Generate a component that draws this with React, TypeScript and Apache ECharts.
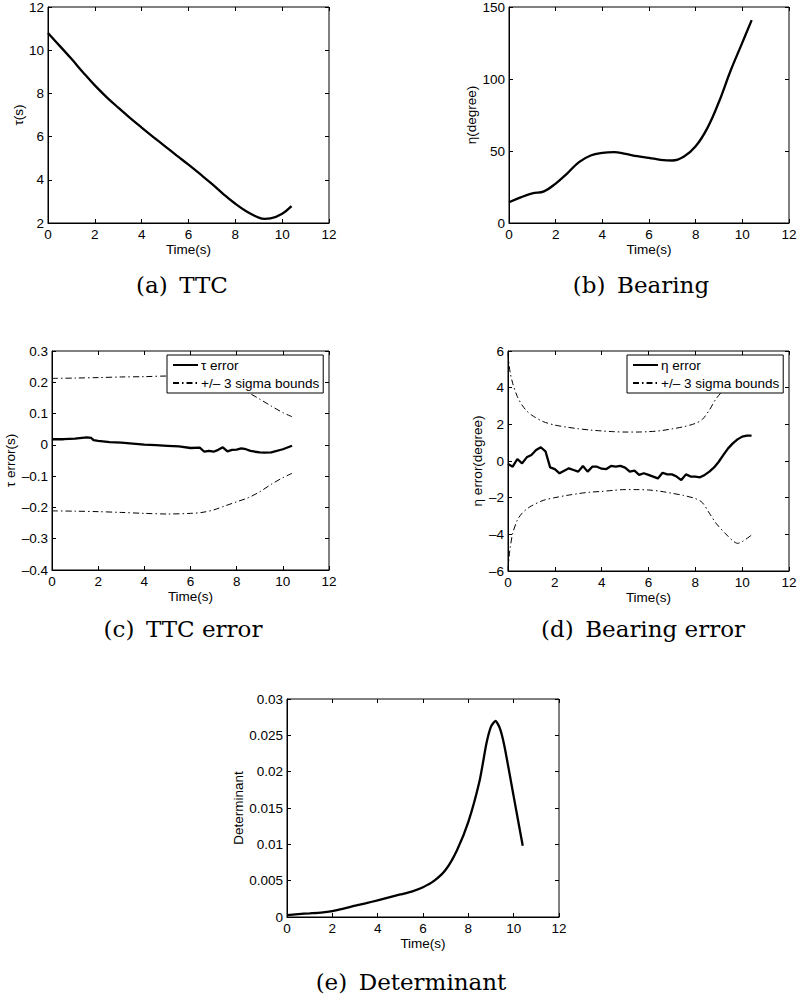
import React, { useEffect, useRef } from "react";
import * as echarts from "echarts";

// ---------- data ----------
const TTC_T = [0, 0.5, 1, 1.5, 2, 2.5, 3, 3.5, 4, 4.5, 5, 5.5, 6, 6.5, 7, 7.5, 8, 8.5, 9, 9.25, 9.5, 10, 10.4];
const TTC = [10.8, 10.2, 9.6, 8.97, 8.37, 7.83, 7.34, 6.87, 6.42, 5.98, 5.55, 5.12, 4.7, 4.26, 3.81, 3.33, 2.89, 2.52, 2.25, 2.19, 2.21, 2.43, 2.78];

const BEAR_T = [0, 0.5, 1, 1.5, 2, 2.5, 3, 3.5, 4, 4.5, 5, 5.5, 6, 6.5, 7, 7.5, 8, 8.5, 9, 9.5, 10, 10.4];
const BEAR = [14.4, 17.8, 20.6, 22, 27.4, 34.5, 42.3, 46.9, 48.7, 49.2, 48, 46.4, 45.3, 43.9, 43.4, 46.2, 53.3, 65.9, 84.2, 105.9, 125.3, 140.9];

const TTC_ERR_T = [0, 0.5, 1, 1.5, 1.7, 1.8, 2, 2.5, 3, 3.5, 4, 4.5, 5, 5.5, 6, 6.4, 6.6, 6.8, 7, 7.2, 7.4, 7.6, 7.8, 8, 8.2, 8.4, 8.6, 8.8, 9, 9.2, 9.5, 10, 10.4];
const TTC_ERR = [0.018, 0.018, 0.02, 0.024, 0.022, 0.015, 0.013, 0.009, 0.007, 0.004, 0.001, -0.001, -0.003, -0.005, -0.01, -0.009, -0.022, -0.019, -0.022, -0.016, -0.008, -0.021, -0.016, -0.015, -0.011, -0.014, -0.019, -0.022, -0.024, -0.025, -0.024, -0.014, -0.003];

const TTC_BND_T = [0, 1, 2, 3, 4, 5, 6, 6.5, 7, 7.5, 8, 8.5, 9, 9.5, 10, 10.4];
const TTC_UP = [0.2125, 0.2135, 0.215, 0.217, 0.218, 0.22, 0.219, 0.216, 0.208, 0.195, 0.182, 0.167, 0.146, 0.124, 0.103, 0.09];
const TTC_LO = [-0.211, -0.212, -0.2135, -0.216, -0.219, -0.221, -0.219, -0.216, -0.208, -0.195, -0.182, -0.169, -0.15, -0.126, -0.105, -0.091];

const BEAR_ERR_T = [0, 0.2, 0.4, 0.6, 0.8, 1, 1.2, 1.4, 1.6, 1.8, 2, 2.2, 2.4, 2.6, 2.8, 3, 3.2, 3.4, 3.6, 3.8, 4, 4.2, 4.4, 4.6, 4.8, 5, 5.2, 5.4, 5.6, 5.8, 6, 6.2, 6.4, 6.6, 6.8, 7, 7.2, 7.4, 7.6, 7.8, 8, 8.2, 8.4, 8.6, 8.8, 9, 9.2, 9.4, 9.6, 9.8, 10, 10.2, 10.4];
const BEAR_ERR = [-0.16, -0.31, 0.11, -0.13, 0.2, 0.33, 0.6, 0.75, 0.53, -0.35, -0.44, -0.67, -0.53, -0.4, -0.49, -0.58, -0.27, -0.58, -0.31, -0.31, -0.42, -0.44, -0.27, -0.31, -0.27, -0.36, -0.58, -0.53, -0.76, -0.67, -0.76, -0.85, -0.95, -0.64, -0.73, -0.73, -0.85, -1.04, -0.73, -0.85, -0.85, -0.89, -0.76, -0.58, -0.35, -0.04, 0.33, 0.69, 0.96, 1.18, 1.33, 1.38, 1.38];

const BEAR_BND_T = [0, 0.05, 0.1, 0.2, 0.4, 0.6, 0.8, 1, 1.5, 2, 2.5, 3, 3.5, 4, 4.5, 5, 5.5, 6, 6.5, 7, 7.5, 8, 8.3, 8.6, 8.9, 9.3, 9.6, 9.8, 10, 10.4];
const BEAR_UP = [5.9, 5.2, 4.78, 4.24, 3.51, 3.05, 2.73, 2.51, 2.15, 1.96, 1.85, 1.76, 1.69, 1.64, 1.6, 1.58, 1.58, 1.6, 1.65, 1.75, 1.87, 2.05, 2.27, 2.78, 3.42, 4.0, 4.35, 4.49, 4.4, 4.04];
const BEAR_LO = [-5.95, -5.2, -4.67, -3.95, -3.22, -2.85, -2.62, -2.45, -2.15, -2.0, -1.88, -1.78, -1.7, -1.66, -1.6, -1.56, -1.56, -1.58, -1.65, -1.76, -1.88, -2.05, -2.27, -2.85, -3.42, -3.98, -4.35, -4.49, -4.4, -4.04];

const DET_T = [0, 0.5, 1, 1.5, 2, 2.5, 3, 3.5, 4, 4.5, 5, 5.5, 6, 6.5, 7, 7.5, 8, 8.5, 8.8, 9, 9.2, 9.4, 9.6, 10, 10.4];
const DET = [0.00027, 0.0004, 0.0005, 0.0006, 0.0008, 0.00114, 0.00155, 0.0019, 0.0023, 0.0027, 0.0031, 0.0035, 0.0041, 0.005, 0.0065, 0.0092, 0.0131, 0.0188, 0.0239, 0.0262, 0.027, 0.0259, 0.0234, 0.0166, 0.0098];

const CAPTIONS = ["(a)\u2002TTC", "(b)\u2002Bearing", "(c)\u2002TTC error", "(d)\u2002Bearing error", "(e)\u2002Determinant"];
const Y_NAMES = ["\u03c4(s)", "\u03b7(degree)", "\u03c4 error(s)", "\u03b7 error(degree)", "Determinant"];
const X_NAME = "Time(s)";
const BOUND_NAME = "+/\u2013 3 sigma bounds";
const TTC_ERR_NAME = "\u03c4 error";
const BEAR_ERR_NAME = "\u03b7 error";

// ---------- layout ----------
const GRIDS = [
  { left: 48, top: 4, width: 281, height: 219 },
  { left: 509, top: 4, width: 280, height: 219 },
  { left: 52, top: 351, width: 277, height: 219 },
  { left: 508, top: 351, width: 281, height: 220 },
  { left: 287, top: 699, width: 272, height: 218 },
];
const Y_RANGES = [
  [2, 12, 2],
  [0, 150, 50],
  [-0.4, 0.3, 0.1],
  [-6, 6, 2],
  [0, 0.03, 0.005],
];
const Y_NAME_GAPS = [23, 30, 34, 24, 42];
const CAPTION_POS = [
  [182, 285],
  [641, 285],
  [183, 629],
  [643, 629],
  [411, 982],
];

const SANS = "'Liberation Sans', Arial, Helvetica, sans-serif";
const FS = 13.5;

const fmt = (v: number) => {
  const s = String(+(+v).toFixed(10));
  return s === "-0" ? "0" : s.replace("-", "\u2013");
};

const zip = (xs: number[], ys: number[]) => xs.map((x, i) => [x, ys[i]]);

function buildOption() {
  const xAxis: any[] = [];
  const yAxis: any[] = [];
  const labelStyle = { color: "#000", fontFamily: SANS, fontSize: FS };
  GRIDS.forEach((_, i) => {
    const [ymin, ymax, yint] = Y_RANGES[i];
    xAxis.push({
      type: "value", gridIndex: i, min: 0, max: 12, interval: 2, position: "bottom",
      axisLine: { show: true, onZero: false, lineStyle: { color: "#000", width: 1 } },
      axisTick: { show: true, inside: true, length: 4, lineStyle: { color: "#000" } },
      axisLabel: { ...labelStyle, margin: 4, showMinLabel: true, showMaxLabel: true, formatter: fmt },
      splitLine: { show: false },
      name: X_NAME, nameLocation: "middle", nameGap: 19,
      nameTextStyle: { ...labelStyle },
    });
    xAxis.push({
      type: "value", gridIndex: i, min: 0, max: 12, interval: 2, position: "top",
      axisLine: { show: false, onZero: false },
      axisTick: { show: true, inside: true, length: 4, lineStyle: { color: "#000" } },
      axisLabel: { show: false }, splitLine: { show: false },
    });
    yAxis.push({
      type: "value", gridIndex: i, min: ymin, max: ymax, interval: yint, position: "left",
      axisLine: { show: true, onZero: false, lineStyle: { color: "#000", width: 1 } },
      axisTick: { show: true, inside: true, length: 4, lineStyle: { color: "#000" } },
      axisLabel: { ...labelStyle, margin: 4, showMinLabel: true, showMaxLabel: true, formatter: fmt },
      splitLine: { show: false },
      name: Y_NAMES[i], nameLocation: "middle", nameGap: Y_NAME_GAPS[i], nameRotate: 90,
      nameTextStyle: { ...labelStyle },
    });
    yAxis.push({
      type: "value", gridIndex: i, min: ymin, max: ymax, interval: yint, position: "right",
      axisLine: { show: false, onZero: false },
      axisTick: { show: true, inside: true, length: 4, lineStyle: { color: "#000" } },
      axisLabel: { show: false }, splitLine: { show: false },
    });
  });

  const solid = (name: string, i: number, data: number[][], smooth: any) => ({
    type: "line", name, xAxisIndex: 2 * i, yAxisIndex: 2 * i, data, symbol: "none",
    smooth, lineStyle: { color: "#000", width: 2.3 }, itemStyle: { color: "#000" }, z: 3,
  });
  const dashdot = (i: number, data: number[][]) => ({
    type: "line", name: BOUND_NAME, xAxisIndex: 2 * i, yAxisIndex: 2 * i, data, symbol: "none",
    smooth: 0.3, lineStyle: { color: "#000", width: 1, type: [6, 3, 1.5, 3] }, itemStyle: { color: "#000" }, z: 2,
  });

  const series = [
    solid("TTC", 0, zip(TTC_T, TTC), 0.4),
    solid("Bearing", 1, zip(BEAR_T, BEAR), 0.4),
    solid(TTC_ERR_NAME, 2, zip(TTC_ERR_T, TTC_ERR), false),
    dashdot(2, zip(TTC_BND_T, TTC_UP)),
    dashdot(2, zip(TTC_BND_T, TTC_LO)),
    solid(BEAR_ERR_NAME, 3, zip(BEAR_ERR_T, BEAR_ERR), false),
    dashdot(3, zip(BEAR_BND_T, BEAR_UP)),
    dashdot(3, zip(BEAR_BND_T, BEAR_LO)),
    solid("Determinant", 4, zip(DET_T, DET), 0.2),
  ];

  const legendBase = {
    orient: "vertical", backgroundColor: "#fff", borderColor: "#000", borderWidth: 1, borderRadius: 0,
    padding: [3, 4, 3, 5], itemWidth: 25, itemHeight: 14, itemGap: 4, z: 10,
    selectedMode: false,
    itemStyle: { opacity: 0, borderWidth: 0 },
    textStyle: { color: "#000", fontFamily: SANS, fontSize: FS, padding: [0, 0, 0, -2] },
  };
  const legend = [
    { ...legendBase, left: 167, top: 355, data: [TTC_ERR_NAME, BOUND_NAME] },
    { ...legendBase, left: 627, top: 355, data: [BEAR_ERR_NAME, BOUND_NAME] },
  ];

  const graphic = CAPTIONS.map((t, i) => ({
    type: "text", x: CAPTION_POS[i][0], y: CAPTION_POS[i][1], z: 10,
    style: {
      text: t, fill: "#000", fontFamily: "'DejaVu Serif', serif", fontSize: 23,
      align: "center", verticalAlign: "middle",
    },
  }));

  return {
    animation: false,
    backgroundColor: "#fff",
    grid: GRIDS.map((g) => ({ ...g, show: true, borderColor: "#000", borderWidth: 1, backgroundColor: "transparent", containLabel: false })),
    xAxis, yAxis, series, legend, graphic,
  };
}

export default function App() {
  const ref = useRef<HTMLDivElement>(null);
  useEffect(() => {
    document.body.style.margin = "0";
    if (!ref.current) return;
    const chart = echarts.init(ref.current, undefined, { renderer: "svg" });
    chart.setOption(buildOption() as any);
    return () => chart.dispose();
  }, []);
  return <div ref={ref} style={{ width: 800, height: 1002 }} />;
}
